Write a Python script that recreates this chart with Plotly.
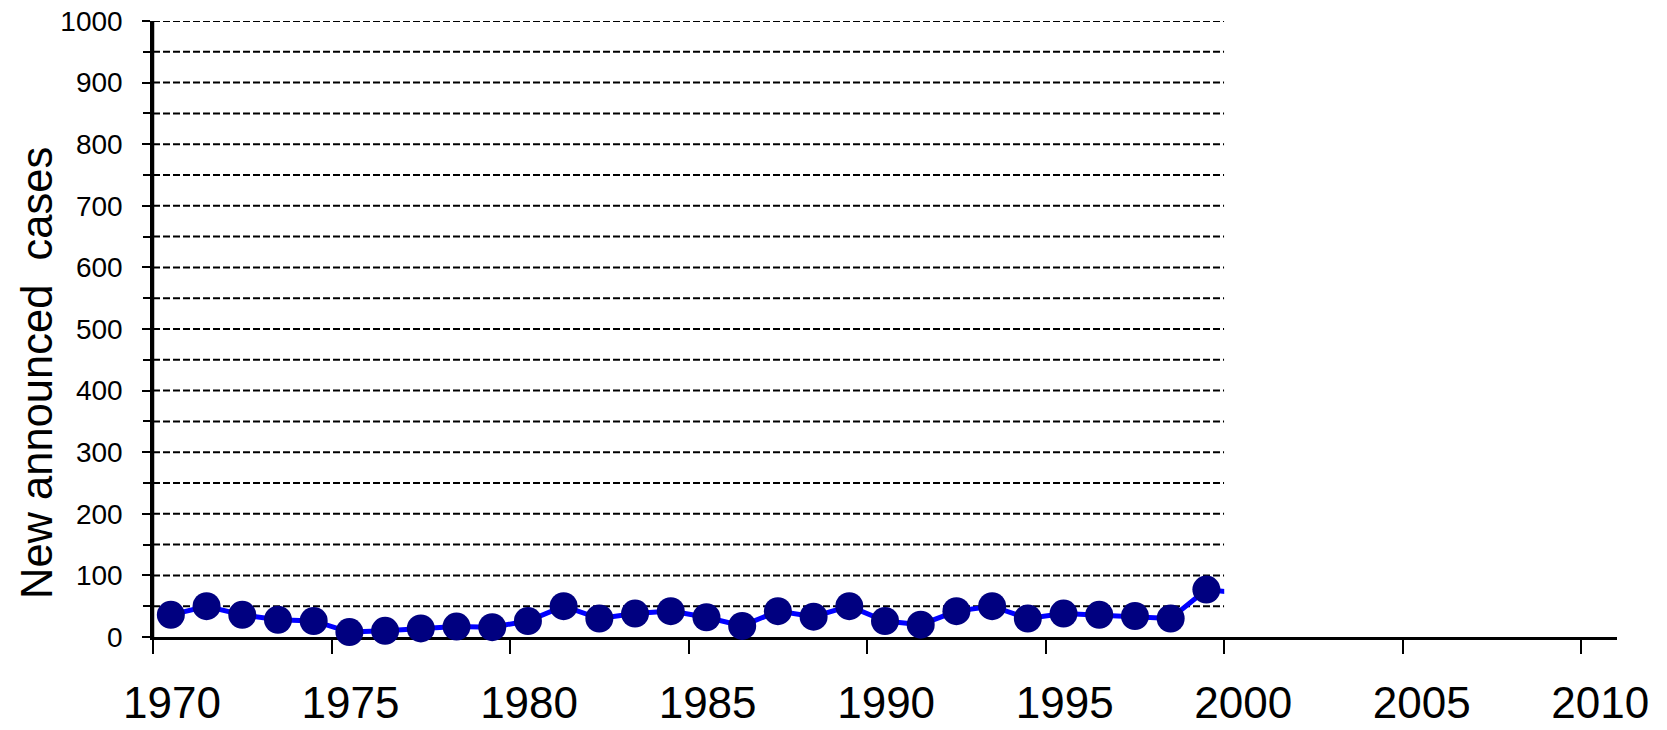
import plotly.graph_objects as go

years = list(range(1970, 2001))
cases = [36, 50, 36, 28, 26, 8, 10, 14, 17, 16,
         26, 50, 30, 38, 42, 32, 18, 42, 33, 50,
         26, 20, 42, 50, 30, 38, 36, 34, 30, 77, 71]
x_ticks = [1970, 1975, 1980, 1985, 1990, 1995, 2000, 2005, 2010]
y_ticks = list(range(0, 1001, 100))
grid_values = list(range(50, 1001, 50))
y_title = "New announced  cases"

data_end = 2000
axis_end = 2011
x_start = 1970

# points are placed mid-year
xpos = [y + 0.5 for y in years]
mx = [x for x in xpos if x < data_end]
my = [v for x, v in zip(xpos, cases) if x < data_end]

font = "Liberation Sans, Arial, sans-serif"

fig = go.Figure()
fig.add_trace(go.Scatter(x=xpos, y=cases, mode="lines", xaxis="x2", yaxis="y",
                         line=dict(color="#0000FF", width=5), hoverinfo="skip",
                         showlegend=False))
fig.add_trace(go.Scatter(x=mx, y=my, mode="markers", xaxis="x2", yaxis="y",
                         marker=dict(color="#000080", size=28, line=dict(width=0)),
                         cliponaxis=False, showlegend=False))
# carrier for the full-length year axis
fig.add_trace(go.Scatter(x=x_ticks, y=[None] * len(x_ticks), mode="markers",
                         xaxis="x", yaxis="y", hoverinfo="skip", showlegend=False))

for g in grid_values:
    fig.add_shape(type="line", xref="x2", yref="y", x0=x_start, x1=data_end, y0=g, y1=g,
                  line=dict(color="black", width=2, dash="7px,3px"), layer="below")

# vertical value-axis line
fig.add_shape(type="line", xref="paper", yref="paper", x0=0, x1=0, y0=0, y1=1,
              line=dict(color="black", width=2.5), layer="above")

frac = (data_end - x_start) / (axis_end - x_start)

fig.add_annotation(text=y_title, xref="paper", yref="paper", x=-0.0792, y=0.4286,
                   xanchor="center", yanchor="middle", textangle=-90, showarrow=False,
                   font=dict(size=43.5, family=font, color="black"))

fig.update_layout(
    width=1667, height=730,
    margin=dict(l=153, r=50, t=21, b=93),
    paper_bgcolor="white", plot_bgcolor="rgba(0,0,0,0)",
    font=dict(family=font, color="black"),
    xaxis=dict(domain=[0, 1], range=[x_start, axis_end], anchor="y",
               tickmode="array", tickvals=x_ticks, ticktext=[str(t) for t in x_ticks],
               ticks="outside", ticklen=14, tickwidth=2, tickcolor="black",
               showline=True, linewidth=2.5, linecolor="black", showgrid=False,
               zeroline=False, tickfont=dict(size=44, family=font),
               ticklabelshift=19, ticklabelstandoff=11, automargin=False,
               ticklabeloverflow="allow"),
    xaxis2=dict(domain=[0, frac], range=[x_start, data_end], anchor="y",
                visible=False, showgrid=False, zeroline=False),
    yaxis=dict(range=[0, 1000], anchor="x2", tickmode="array", tickvals=y_ticks,
               ticks="outside", ticklen=8, tickwidth=2, tickcolor="black",
               minor=dict(dtick=50, ticks="outside", ticklen=7, tickwidth=2,
                          tickcolor="black", showgrid=False),
               showline=True, linewidth=2.5, linecolor="black", showgrid=False,
               zeroline=False, tickfont=dict(size=28, family=font),
               ticklabelstandoff=14, automargin=False, ticklabeloverflow="allow"),
)

fig.write_html("out.html", config={"displayModeBar": False},
               post_script="document.body.style.margin='0';document.body.style.overflow='hidden';")
